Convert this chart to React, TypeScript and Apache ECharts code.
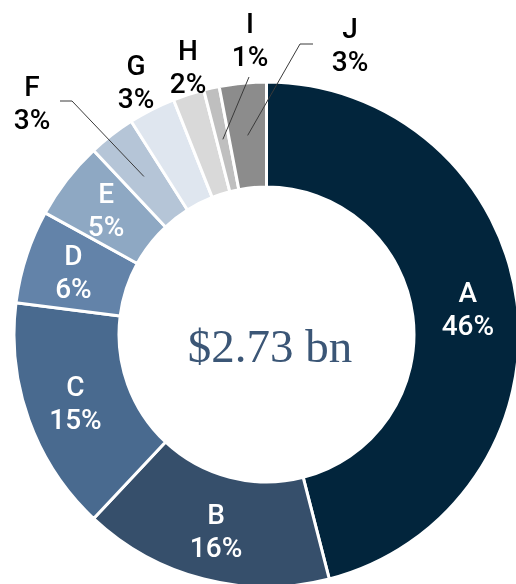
import React, { useEffect, useRef } from "react";
import * as echarts from "echarts";

const categories = ["A", "B", "C", "D", "E", "F", "G", "H", "I", "J"];
const shares = [46, 16, 15, 6, 5, 3, 3, 2, 1, 3];
const totalLabel = "$2.73 bn";

const colors = [
  "#02253c",
  "#364f6b",
  "#496a8f",
  "#6383a9",
  "#8ea8c3",
  "#b5c5d7",
  "#dfe6ef",
  "#d9d9d9",
  "#bfbfbf",
  "#8c8c8c",
];

const CX = 266.5;
const CY = 334.5;
const R_IN = 147.5;
const R_OUT = 252.5;

// outside label placements (layout only)
const outsideLayout: Record<string, { x: number; y: number; line?: number[][] }> = {
  F: { x: 32, y: 103, line: [[72, 101], [60, 101]] },
  G: { x: 136, y: 82 },
  H: { x: 188, y: 67 },
  I: { x: 250, y: 40, line: [[249, 77]] },
  J: { x: 350, y: 45, line: [[300, 44], [313, 44]] },
};
const insideCount = 5;
const labelFont = "Roboto, 'Liberation Sans', Arial, sans-serif";

export default function App() {
  const ref = useRef<HTMLDivElement>(null);
  useEffect(() => {
    document.body.style.margin = "0";
    const chart = echarts.init(ref.current!, undefined, { renderer: "svg" });
    const total = shares.reduce((a, b) => a + b, 0);
    // anchor points at mid radius / mid angle of each slice, computed from data
    const anchors: number[][] = [];
    let cum = 0;
    shares.forEach((v) => {
      const mid = cum + v / 2;
      cum += v;
      const ang = ((90 - (mid / total) * 360) * Math.PI) / 180;
      const r = (R_IN + R_OUT) / 2;
      anchors.push([CX + r * Math.cos(ang), CY - r * Math.sin(ang)]);
    });

    const data = categories.map((name, i) => {
      const inside = i < insideCount;
      return {
        name,
        value: shares[i],
        itemStyle: { color: colors[i] },
        label: inside
          ? { position: "inside", color: "#ffffff" }
          : { position: "outside", color: "#000000" },
        labelLine: { show: false },
      };
    });

    const leaders = categories
      .map((name, i) => ({ name, i, lay: outsideLayout[name] }))
      .filter((d) => d.lay && d.lay.line)
      .map((d) => ({
        type: "polyline",
        z: 100,
        shape: { points: [anchors[d.i], ...(d.lay.line as number[][])] },
        style: { stroke: "#3a3a3a", lineWidth: 1, fill: null },
        silent: true,
      }));

    chart.setOption({
      animation: false,
      graphic: [
        {
          type: "text",
          x: 270,
          y: 346,
          style: {
            text: totalLabel,
            fill: "#3b5676",
            font: "47px 'Liberation Serif', 'DejaVu Serif', serif",
            textAlign: "center",
            textVerticalAlign: "middle",
          },
        },
        ...leaders,
      ],
      series: [
        {
          type: "pie",
          center: [CX, CY],
          radius: [R_IN, R_OUT],
          startAngle: 90,
          clockwise: true,
          avoidLabelOverlap: false,
          itemStyle: { borderColor: "#ffffff", borderWidth: 3 },
          label: {
            show: true,
            formatter: (p: any) => `${p.name}\n${p.value}%`,
            fontFamily: labelFont,
            fontWeight: 500,
            fontSize: 28,
            lineHeight: 33,
            align: "center",
          },
          labelLine: { show: false },
          labelLayout: (params: any) => {
            const name = categories[params.dataIndex];
            const lay = outsideLayout[name];
            if (!lay) return {};
            return {
              x: lay.x,
              y: lay.y,
              align: "center",
              verticalAlign: "middle",
              hideOverlap: false,
            };
          },
          emphasis: { disabled: true },
          data,
        },
      ],
    });
    return () => chart.dispose();
  }, []);
  return (
    <div
      ref={ref}
      style={{ position: "fixed", left: 0, top: 0, width: 516, height: 584 }}
    />
  );
}
